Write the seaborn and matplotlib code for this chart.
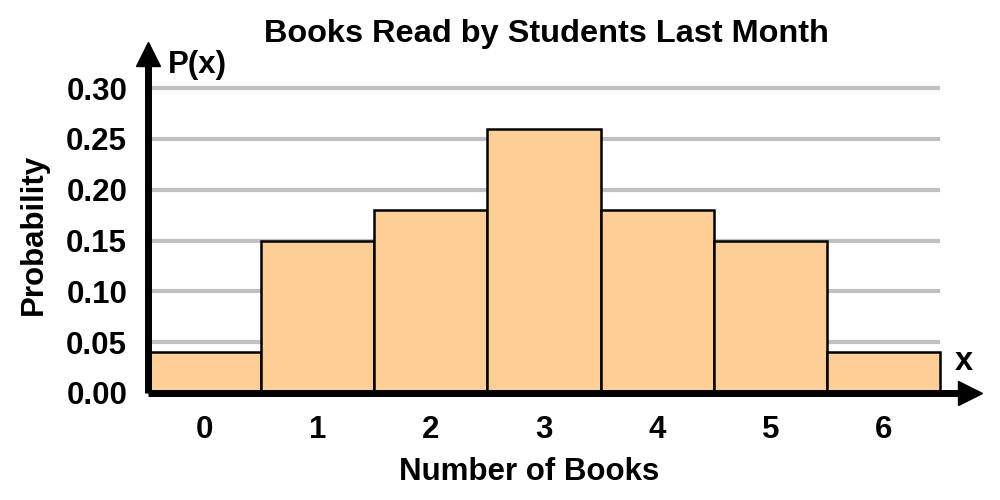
import matplotlib
matplotlib.use("Agg")
import matplotlib.pyplot as plt
import seaborn as sns
import pandas as pd

# Data
books = [0, 1, 2, 3, 4, 5, 6]
probs = [0.04, 0.15, 0.18, 0.26, 0.18, 0.15, 0.04]
yticks = [0.00, 0.05, 0.10, 0.15, 0.20, 0.25, 0.30]

df = pd.DataFrame({"Books": books, "P": probs})

sns.set_style("white")
plt.rcParams['font.family'] = ['Liberation Sans', 'DejaVu Sans']
plt.rcParams['font.weight'] = 'bold'
plt.rcParams['text.color'] = 'black'
plt.rcParams['axes.labelcolor'] = 'black'
plt.rcParams['xtick.color'] = 'black'
plt.rcParams['ytick.color'] = 'black'

FS = 22.5

fig = plt.figure(figsize=(10, 5), dpi=100)
ax = fig.add_axes([0.148, 0.214, 0.822, 0.678])

# grid lines only over the bar area
ax.hlines(yticks[1:], -0.5, 6.5, color='#C0C0C0', linewidth=3, zorder=0)

sns.barplot(data=df, x="Books", y="P", color='#FDCF97', width=1.0,
            edgecolor='black', linewidth=1.8, saturation=1, ax=ax, zorder=2)

ax.set_xlim(-0.5, 6.765)
ax.set_ylim(0, 0.3336)
ax.set_yticks(yticks)
ax.set_yticklabels([f"{v:.2f}" for v in yticks])
ax.set_xlabel("")
ax.set_ylabel("")

for s in ['top', 'right']:
    ax.spines[s].set_visible(False)
for s in ['left', 'bottom']:
    ax.spines[s].set_linewidth(5)
    ax.spines[s].set_color('black')
    ax.spines[s].set_zorder(3)
    ax.spines[s].set_capstyle('butt')

ax.tick_params(axis='y', direction='out', length=8, width=5, labelsize=FS, pad=7)
ax.tick_params(axis='x', direction='out', length=9, width=5, labelsize=FS, pad=7)

# arrow heads
ax.plot(1, 0, '>', color='black', markersize=17, transform=ax.transAxes, clip_on=False, zorder=4)
ax.plot(0, 1, '^', color='black', markersize=17, transform=ax.transAxes, clip_on=False, zorder=4)

fig.text(0.168, 0.854, 'P(x)', fontsize=FS, fontweight='bold', va='baseline')
fig.text(0.955, 0.26, 'x', fontsize=FS + 1, fontweight='bold', va='baseline')

fig.text(0.529, 0.04, "Number of Books", fontsize=FS, fontweight='bold', ha='center', va='baseline')
fig.text(0.034, 0.532, "Probability", fontsize=FS, fontweight='bold', rotation=90, ha='center', va='center')
fig.text(0.546, 0.916, "Books Read by Students Last Month", fontsize=23.4, fontweight='bold',
         ha='center', va='baseline')

fig.savefig("out.png", dpi=100)
